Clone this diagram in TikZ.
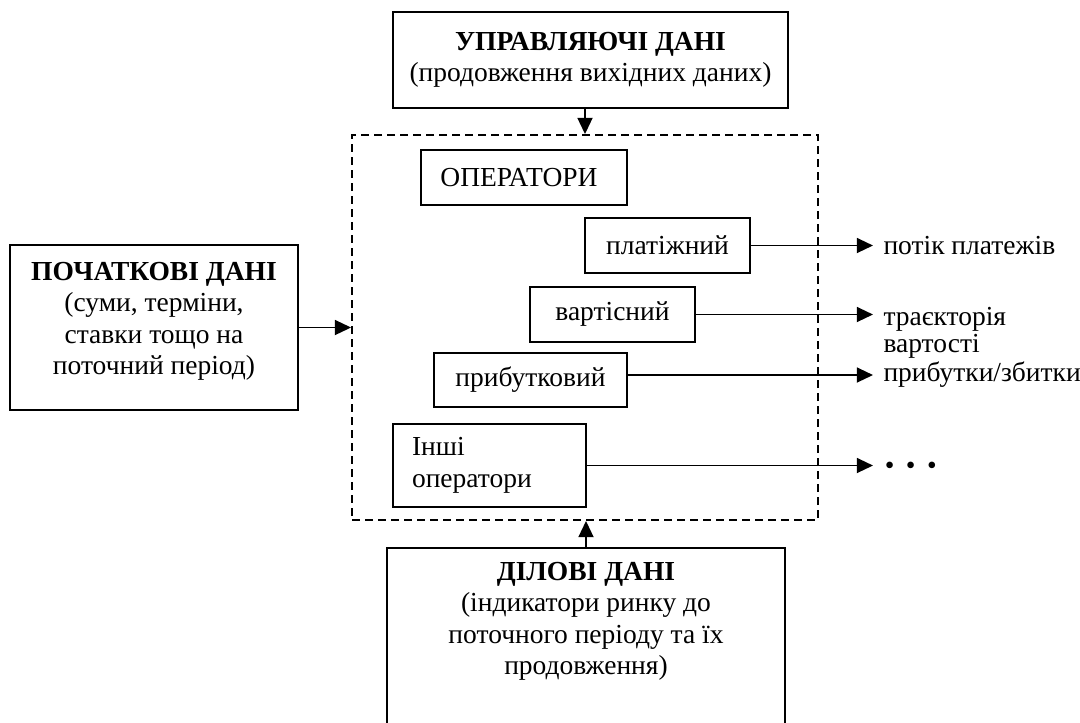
\documentclass[tikz,border=0pt]{standalone}
\usepackage{fontspec}
\setmainfont{Liberation Serif}
\usetikzlibrary{arrows.meta, positioning, calc}

\begin{document}
\begin{tikzpicture}[
  x=0.4pt, y=-0.4pt,
  font=\fontsize{11}{12.6}\selectfont,
  box/.style={rectangle, draw, line width=0.75pt, inner sep=0pt},
  opbox/.style={rectangle, draw, line width=0.75pt, minimum height=22pt, align=center},
  dashbox/.style={rectangle, draw, line width=0.75pt, dash pattern=on 3.2pt off 2pt},
  txt/.style={align=center, inner sep=0pt},
  outlabel/.style={anchor=west, inner sep=0pt, align=left},
  arrow/.style={-{Triangle[length=6.5pt, width=6pt]}, line width=0.75pt}
]
  \useasboundingbox (0,0) rectangle (1080,722);

  % input boxes
  \node[box, minimum width=158pt, minimum height=38.4pt, align=center] (upr) at (590.5,60)
    {\textbf{УПРАВЛЯЮЧІ ДАНІ}\\(продовження вихідних даних)};
  \node[box, minimum width=115.2pt, minimum height=66pt] (poch) at (154,327.5) {};
  \node[txt, below=7pt of poch.north]
    {\textbf{ПОЧАТКОВІ ДАНІ}\\(суми, терміни,\\ставки тощо на\\поточний період)};
  \node[box, minimum width=159.2pt, minimum height=84.8pt] (dil) at (586,654) {};
  \node[txt, below=5.8pt of dil.north]
    {\textbf{ДІЛОВІ ДАНІ}\\(індикатори ринку до\\поточного періоду та їх\\продовження)};

  % operators
  \node[dashbox, minimum width=186.4pt, minimum height=154pt] (ops) at (585,327.5) {};
  \node[opbox, minimum width=82.4pt] (oper) at (524,177.5) {\hspace*{-4pt}ОПЕРАТОРИ};
  \node[opbox, minimum width=66pt] (plat) at (667.5,245.5) {платіжний};
  \node[opbox, minimum width=66pt] (vart) at (612.5,314.5) {вартісний};
  \node[opbox, minimum width=77.2pt, minimum height=21.6pt] (prib) at (530.5,380) {прибутковий};
  \node[opbox, minimum height=33.2pt, inner xsep=7.6pt, text width=62pt, align=left] (insh)
    at (489.5,465.5) {Інші\\[0.4pt]оператори};

  % outputs
  \coordinate (out) at (873,0);
  \node[outlabel] (lplat) at ([xshift=4pt]plat.east -| out) {потік платежів};
  \node[outlabel, anchor=north west] (lvart) at ([xshift=4pt, yshift=3pt]vart.east -| out)
    {траєкторія\\[-2pt]вартості};
  \node[outlabel] (lprib) at ([xshift=4pt, yshift=2pt]prib.east -| out) {прибутки/збитки};
  \node[outlabel] (ldots) at ([xshift=4.5pt, yshift=-1pt]insh.east -| out)
    {•\hspace{4.6pt}•\hspace{4.6pt}•};

  \draw[arrow] (upr.south -| ops.north) -- (ops.north);
  \draw[arrow] (dil.north) -- (dil.north |- ops.south);
  \draw[arrow] (poch.east) -- (ops.west);
  \draw[arrow] (plat.east) -- (plat.east -| out);
  \draw[arrow] (vart.east) -- (vart.east -| out);
  \draw[arrow] ([yshift=2pt]prib.east) -- ([yshift=2pt]prib.east -| out);
  \draw[arrow] (insh.east) -- (insh.east -| out);
\end{tikzpicture}
\end{document}
